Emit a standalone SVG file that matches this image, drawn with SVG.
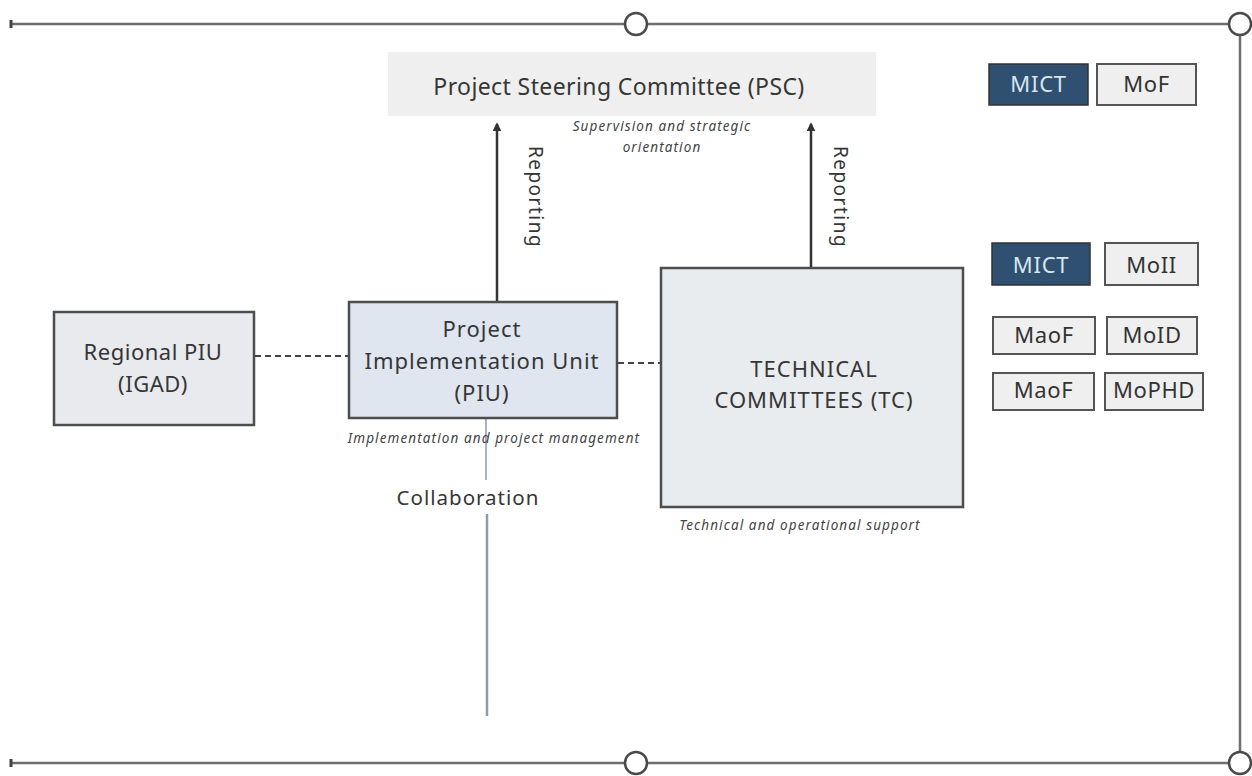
<svg xmlns="http://www.w3.org/2000/svg" width="1252" height="776" viewBox="0 0 1252 776">
  <style>
    .frame { stroke: #6e6e6e; stroke-width: 2.5; fill: none; }
    .ring { stroke: #4a4a4a; stroke-width: 2.5; fill: #ffffff; }
    .box { stroke: #4d4d4d; stroke-width: 2.5; }
    .lbl { font-family: "Noto Sans", "Liberation Sans", sans-serif; fill: #363636; text-anchor: middle; }
    .note { font-family: "Noto Sans", "Liberation Sans", sans-serif; font-style: italic; fill: #444444; text-anchor: middle; font-size: 13.5px; letter-spacing: 1.1px; }
    .tag { stroke: #555555; stroke-width: 2; fill: #efefef; }
    .tagdark { stroke: #333333; stroke-width: 1.5; fill: #2f5070; }
    .tagtxt { font-family: "Noto Sans", "Liberation Sans", sans-serif; font-size: 22px; fill: #333333; text-anchor: middle; letter-spacing: 0.6px; }
    .tagtxtlight { font-family: "Noto Sans", "Liberation Sans", sans-serif; font-size: 22px; fill: #d8e5f0; text-anchor: middle; letter-spacing: 0.8px; }
    .dash { stroke: #444444; stroke-width: 2; stroke-dasharray: 6 4; fill: none; }
    .report { stroke: #333333; stroke-width: 2.5; fill: none; marker-end: url(#head); }
  </style>
  <defs>
    <marker id="head" viewBox="0 0 10 10" refX="8" refY="5" markerWidth="3.5" markerHeight="3.5" orient="auto">
      <path d="M0,0 L10,5 L0,10 z" fill="#333333"/>
    </marker>
  </defs>

  <rect width="1252" height="776" fill="#ffffff"/>

  <!-- outer frame with ring joints -->
  <g id="frame">
    <line class="frame" x1="10" y1="24" x2="1229" y2="24"/>
    <line class="frame" x1="10" y1="763" x2="1229" y2="763"/>
    <line class="frame" x1="1240" y1="35" x2="1240" y2="752"/>
    <line stroke="#444" stroke-width="3" x1="11" y1="20" x2="11" y2="28"/>
    <line stroke="#444" stroke-width="3" x1="11" y1="759" x2="11" y2="767"/>
    <circle class="ring" cx="636" cy="24" r="11"/>
    <circle class="ring" cx="1240" cy="24" r="11"/>
    <circle class="ring" cx="636" cy="763" r="11"/>
    <circle class="ring" cx="1240" cy="763" r="11"/>
  </g>

  <!-- connectors -->
  <g id="connectors">
    <line class="report" x1="497" y1="301" x2="497" y2="124"/>
    <line class="report" x1="811" y1="268" x2="811" y2="124"/>
    <line class="dash" x1="255" y1="356" x2="348" y2="356"/>
    <line class="dash" x1="618" y1="363" x2="668" y2="363"/>
    <line stroke="#a7b3c2" stroke-width="2" x1="486" y1="419" x2="486" y2="480"/>
    <line stroke="#8c9bb0" stroke-width="2.5" x1="487" y1="514" x2="487" y2="716"/>
    <text class="lbl" font-size="19" letter-spacing="1.5" transform="translate(529,197) rotate(90)">Reporting</text>
    <text class="lbl" font-size="19" letter-spacing="1.5" transform="translate(834,197) rotate(90)">Reporting</text>
    <text class="lbl" font-size="20.5" letter-spacing="1" x="468" y="505">Collaboration</text>
  </g>

  <!-- steering committee -->
  <g id="psc">
    <rect x="388" y="52" width="488" height="64" fill="#efefef"/>
    <text class="lbl" font-size="23" letter-spacing="0.4" x="619" y="95">Project Steering Committee (PSC)</text>
    <text class="note" x="662" y="131">Supervision and strategic</text>
    <text class="note" x="662" y="152">orientation</text>
  </g>

  <!-- PSC members -->
  <g id="psc-members">
    <rect class="tagdark" x="989" y="64" width="99" height="41"/>
    <text class="tagtxtlight" x="1038.5" y="92">MICT</text>
    <rect class="tag" x="1097" y="64" width="99" height="41"/>
    <text class="tagtxt" x="1146.5" y="92">MoF</text>
  </g>

  <!-- regional PIU -->
  <g id="regional-piu">
    <rect class="box" x="54" y="312" width="200" height="113" fill="#e8eaee"/>
    <text class="lbl" font-size="22" letter-spacing="0.5" x="153" y="360">Regional PIU</text>
    <text class="lbl" font-size="22" letter-spacing="0.5" x="153" y="392">(IGAD)</text>
  </g>

  <!-- implementation unit -->
  <g id="piu">
    <rect class="box" x="349" y="302" width="268" height="116" fill="#dfe6ef"/>
    <text class="lbl" font-size="22" letter-spacing="1" x="482" y="337">Project</text>
    <text class="lbl" font-size="22" letter-spacing="1" x="482" y="369">Implementation Unit</text>
    <text class="lbl" font-size="22" letter-spacing="1" x="482" y="401">(PIU)</text>
    <text class="note" x="494" y="443">Implementation and project management</text>
  </g>

  <!-- technical committees -->
  <g id="tc">
    <rect class="box" x="661" y="268" width="302" height="239" fill="#e9ecef"/>
    <text class="lbl" font-size="22" letter-spacing="1" x="814" y="377">TECHNICAL</text>
    <text class="lbl" font-size="22" letter-spacing="1" x="814" y="408">COMMITTEES (TC)</text>
    <text class="note" x="800" y="530">Technical and operational support</text>
  </g>

  <!-- TC members -->
  <g id="tc-members">
    <rect class="tagdark" x="992" y="243" width="98" height="42"/>
    <text class="tagtxtlight" x="1041" y="273">MICT</text>
    <rect class="tag" x="1105" y="243" width="93" height="42"/>
    <text class="tagtxt" x="1151.5" y="273">MoII</text>
    <rect class="tag" x="993" y="317" width="102" height="37"/>
    <text class="tagtxt" font-size="21" x="1044" y="343">MaoF</text>
    <rect class="tag" x="1107" y="317" width="90" height="37"/>
    <text class="tagtxt" font-size="21" x="1152" y="343">MoID</text>
    <rect class="tag" x="993" y="373" width="101" height="37"/>
    <text class="tagtxt" font-size="21" x="1043.5" y="398">MaoF</text>
    <rect class="tag" x="1105" y="373" width="98" height="37"/>
    <text class="tagtxt" font-size="21" x="1154" y="398">MoPHD</text>
  </g>
</svg>
